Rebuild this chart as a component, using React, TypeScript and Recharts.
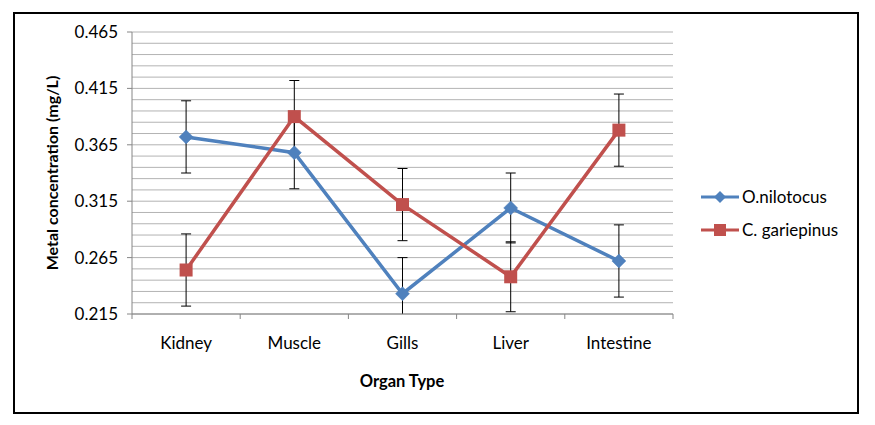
import React from 'react';
import { LineChart, Line, XAxis, YAxis, CartesianGrid, ErrorBar, Legend } from 'recharts';

const organs = ['Kidney', 'Muscle', 'Gills', 'Liver', 'Intestine'];
const nilotocus = [0.372, 0.358, 0.233, 0.309, 0.262];
const nilotocusErr = [0.032, 0.032, 0.032, 0.031, 0.032];
const gariepinus = [0.254, 0.390, 0.312, 0.248, 0.378];
const gariepinusErr = [0.032, 0.032, 0.032, 0.031, 0.032];
const yTicks = [0.215, 0.265, 0.315, 0.365, 0.415, 0.465];
const yDomain = [0.215, 0.465];
const gridValues = [
  0.215, 0.225, 0.235, 0.245, 0.255, 0.265, 0.275, 0.285, 0.295, 0.305, 0.315, 0.325, 0.335,
  0.345, 0.355, 0.365, 0.375, 0.385, 0.395, 0.405, 0.415, 0.425, 0.435, 0.445, 0.455, 0.465,
];
const seriesNames = ['O.nilotocus', 'C. gariepinus'];

const data = organs.map((organ, i) => ({
  organ,
  o: nilotocus[i],
  oErr: nilotocusErr[i],
  c: gariepinus[i],
  cErr: gariepinusErr[i],
}));

const BLUE = '#4F81BD';
const RED = '#C0504D';
const FONT = 'Lato, "Open Sans", sans-serif';

const PLOT_LEFT = 132;
const PLOT_RIGHT = 673;
const PLOT_TOP = 32;
const PLOT_BOTTOM = 314;
const STEP = (PLOT_RIGHT - PLOT_LEFT) / organs.length;
const Y_AXIS_W = 60;
const X_AXIS_H = 30;

const Diamond = (props: any) => {
  const { cx, cy } = props;
  if (cx == null || cy == null) return null;
  const r = 7;
  return (
    <polygon
      points={`${cx},${cy - r} ${cx + r},${cy} ${cx},${cy + r} ${cx - r},${cy}`}
      fill={BLUE}
      stroke={BLUE}
      strokeWidth={0.5}
    />
  );
};

const Square = (props: any) => {
  const { cx, cy } = props;
  if (cx == null || cy == null) return null;
  const s = 13;
  return <rect x={cx - s / 2} y={cy - s / 2} width={s} height={s} fill={RED} />;
};

const XTick = (props: any) => {
  const { x, payload, index } = props;
  return (
    <g>
      <line x1={x - STEP / 2} x2={x - STEP / 2} y1={PLOT_BOTTOM} y2={PLOT_BOTTOM + 5} stroke="#868686" />
      {index === organs.length - 1 && (
        <line x1={x + STEP / 2} x2={x + STEP / 2} y1={PLOT_BOTTOM} y2={PLOT_BOTTOM + 5} stroke="#868686" />
      )}
      <text x={x} y={349} textAnchor="middle" fontSize={17} fill="#000" fontFamily={FONT}>
        {payload.value}
      </text>
    </g>
  );
};

const YLabel = () => (
  <text
    x={58}
    y={(PLOT_TOP + PLOT_BOTTOM) / 2}
    transform={`rotate(-90, 58, ${(PLOT_TOP + PLOT_BOTTOM) / 2})`}
    textAnchor="middle"
    fontSize={16}
    fontWeight="bold"
    fontFamily={FONT}
    fill="#000"
  >
    Metal concentration (mg/L)
  </text>
);

const XLabel = () => (
  <text x={402} y={387} textAnchor="middle" fontSize={16.5} fontWeight="bold" fontFamily={FONT} fill="#000">
    Organ Type
  </text>
);

const LegendContent = () => (
  <div style={{ fontFamily: FONT, fontSize: 17, color: '#000' }}>
    {seriesNames.map((name, i) => (
      <div key={name} style={{ display: 'flex', alignItems: 'center', height: 33 }}>
        <svg width={42} height={16} style={{ display: 'block' }}>
          <line x1={1} x2={39} y1={8} y2={8} stroke={i === 0 ? BLUE : RED} strokeWidth={3} />
          {i === 0 ? (
            <polygon points="20,2 26,8 20,14 14,8" fill={BLUE} />
          ) : (
            <rect x={14} y={2} width={12} height={12} fill={RED} />
          )}
        </svg>
        <span>{name}</span>
      </div>
    ))}
  </div>
);

const gridGenerator = (p: any) => {
  const top = p?.offset?.top ?? PLOT_TOP;
  const h = p?.offset?.height ?? PLOT_BOTTOM - PLOT_TOP;
  return gridValues.map((v) => top + (h * (yDomain[1] - v)) / (yDomain[1] - yDomain[0]));
};

export default function App() {
  return (
    <div style={{ position: 'relative', left: -8, top: -8, width: 875, height: 425, background: '#fff' }}>
      <style>{`.recharts-errorBars { clip-path: polygon(${PLOT_LEFT}px ${PLOT_TOP}px, ${PLOT_RIGHT}px ${PLOT_TOP}px, ${PLOT_RIGHT}px ${PLOT_BOTTOM}px, ${PLOT_LEFT}px ${PLOT_BOTTOM}px) view-box; }`}</style>
      <div
        style={{
          position: 'absolute',
          left: 13,
          top: 12,
          width: 846,
          height: 402,
          border: '2px solid #000',
          boxSizing: 'border-box',
        }}
      />
      <div style={{ position: 'absolute', left: 0, top: 0 }}>
        <LineChart
          width={875}
          height={425}
          data={data}
          margin={{
            top: PLOT_TOP,
            left: PLOT_LEFT - Y_AXIS_W,
            right: 875 - PLOT_RIGHT,
            bottom: 425 - PLOT_BOTTOM - X_AXIS_H,
          }}
        >
          <CartesianGrid vertical={false} stroke="#B3B3B3" horizontalCoordinatesGenerator={gridGenerator} />
          <XAxis
            dataKey="organ"
            height={X_AXIS_H}
            padding={{ left: STEP / 2, right: STEP / 2 }}
            axisLine={{ stroke: '#868686' }}
            tickLine={false}
            tick={<XTick />}
            interval={0}
            label={<XLabel />}
          />
          <YAxis
            width={Y_AXIS_W}
            domain={yDomain}
            ticks={yTicks}
            allowDataOverflow
            axisLine={{ stroke: '#868686' }}
            tickLine={{ stroke: '#868686' }}
            tickSize={5}
            tickMargin={9}
            tickFormatter={(v: number) => v.toFixed(3)}
            tick={{ fontSize: 17, fill: '#000', fontFamily: FONT }}
            label={<YLabel />}
          />
          <Legend
            layout="vertical"
            align="center"
            verticalAlign="middle"
            content={<LegendContent />}
            wrapperStyle={{ left: 700, top: 180, width: 170 }}
          />
          <Line
            type="linear"
            dataKey="o"
            name={seriesNames[0]}
            stroke={BLUE}
            strokeWidth={3.5}
            dot={<Diamond />}
            activeDot={false}
            isAnimationActive={false}
          >
            <ErrorBar dataKey="oErr" direction="y" width={5} stroke="#000" strokeWidth={1} />
          </Line>
          <Line
            type="linear"
            dataKey="c"
            name={seriesNames[1]}
            stroke={RED}
            strokeWidth={3.5}
            dot={<Square />}
            activeDot={false}
            isAnimationActive={false}
          >
            <ErrorBar dataKey="cErr" direction="y" width={5} stroke="#000" strokeWidth={1} />
          </Line>
        </LineChart>
      </div>
    </div>
  );
}
